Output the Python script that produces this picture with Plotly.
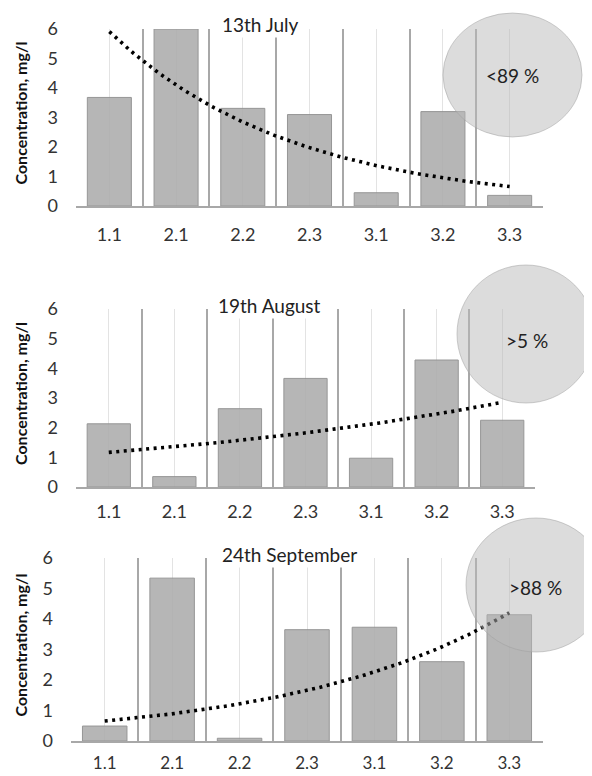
import numpy as np
import plotly.graph_objects as go

categories = ["1.1", "2.1", "2.2", "2.3", "3.1", "3.2", "3.3"]
titles = ["13th July", "19th August", "24th September"]
july = [3.68, 6.0, 3.31, 3.10, 0.45, 3.20, 0.36]
august = [2.13, 0.35, 2.64, 3.66, 0.97, 4.28, 2.25]
september = [0.49, 5.34, 0.09, 3.65, 3.73, 2.60, 4.14]
badges = ["<89 %", ">5 %", ">88 %"]
y_ticks = [0, 1, 2, 3, 4, 5, 6]

series = [july, august, september]

# the page body has an 8px margin; the figure is sized and positioned to compensate
OX, OY = 8, 8
W, H = 592 - OX, 776 - OY


def px(x):
    return (x - OX) / W


def py(y):
    return 1 - (y - OY) / H


# panel geometry in page pixels: (x0, x1, ytop, ybottom)
panels = [(76, 543, 29, 206), (76, 535, 309, 487), (71, 543, 558, 741)]
label_standoff = [11, 7, 6]
tick_size = [18, 18, 17]
circles = [(443, 582, 13, 137), (457, 595, 265, 403), (466, 606, 518, 652)]
badge_pos = [(512, 75), (527, 340), (535, 587)]
title_pos = [(220, 25), (216, 305), (220, 554)]

FONT = "Lato"
fig = go.Figure()
xs = np.arange(len(categories))
shapes = []
annotations = []

for k, vals in enumerate(series):
    ax = "" if k == 0 else str(k + 1)
    xa, ya = "x" + ax, "y" + ax
    fig.add_trace(go.Bar(
        x=xs, y=vals, width=0.66, xaxis=xa, yaxis=ya,
        marker=dict(color="#b0b0b0", line=dict(color="#8e8e8e", width=1)),
        opacity=0.92, showlegend=False, hoverinfo="skip"))
    # Excel-style exponential trendline fitted to the bar values
    v = np.array(vals, dtype=float)
    b, a = np.polyfit(xs + 1, np.log(v), 1)
    xt = np.linspace(0, len(categories) - 1, 200)
    yt = np.exp(a + b * (xt + 1))
    fig.add_trace(go.Scatter(
        x=xt, y=yt, mode="lines", xaxis=xa, yaxis=ya,
        line=dict(color="black", width=3.6, dash="3px,4.5px"),
        showlegend=False, hoverinfo="skip"))

    x0, x1, yt_px, yb_px = panels[k]
    fig.layout["xaxis" + ax] = dict(
        domain=[px(x0), px(x1)], anchor=ya, range=[-0.5, len(categories) - 0.5],
        automargin=False,
        tickmode="array", tickvals=list(xs), ticktext=categories,
        showgrid=True, gridcolor="#e3e3e3", gridwidth=1,
        minor=dict(tickmode="array", tickvals=[i - 0.5 for i in range(len(categories))],
                   showgrid=True, gridcolor="#a8a8a8", gridwidth=2),
        showline=True, linecolor="#a8a8a8", linewidth=2,
        ticks="", ticklabelstandoff=label_standoff[k],
        tickfont=dict(family=FONT, size=tick_size[k], color="#333333"), zeroline=False)
    fig.layout["yaxis" + ax] = dict(
        domain=[py(yb_px), py(yt_px)], anchor=xa, range=[0, 6],
        automargin=False,
        tickmode="array", tickvals=y_ticks, showgrid=False, zeroline=False,
        showline=False, ticks="", ticklabelstandoff=17,
        tickfont=dict(family=FONT, size=18, color="#333333"))

    cx0, cx1, cy0, cy1 = circles[k]
    shapes.append(dict(type="circle", xref="paper", yref="paper",
                       x0=px(cx0), x1=px(cx1), y0=py(cy1), y1=py(cy0),
                       fillcolor="rgba(185,185,185,0.5)",
                       line=dict(color="rgba(160,160,160,0.5)", width=1), layer="above"))
    bx, by = badge_pos[k]
    annotations.append(dict(text=badges[k], xref="paper", yref="paper",
                            x=px(bx), y=py(by), showarrow=False,
                            xanchor="center", yanchor="middle",
                            font=dict(family=FONT, size=19, color="#222222")))
    tx, ty = title_pos[k]
    annotations.append(dict(text=titles[k], xref="paper", yref="paper",
                            x=px(tx), y=py(ty), showarrow=False,
                            xanchor="left", yanchor="middle", bgcolor="white",
                            borderpad=1,
                            font=dict(family=FONT, size=19, color="#222222")))
    annotations.append(dict(text="<b>Concentration, mg/l</b>", xref="paper", yref="paper",
                            x=px(20), y=py((yt_px + yb_px) / 2 - 4), showarrow=False,
                            textangle=-90, xanchor="center", yanchor="middle",
                            font=dict(family=FONT, size=16, color="#111111")))

fig.update_layout(width=W, height=H, margin=dict(l=0, r=0, t=0, b=0),
                  paper_bgcolor="white", plot_bgcolor="white",
                  shapes=shapes, annotations=annotations, bargap=0.34)
fig.write_html("out.html")
